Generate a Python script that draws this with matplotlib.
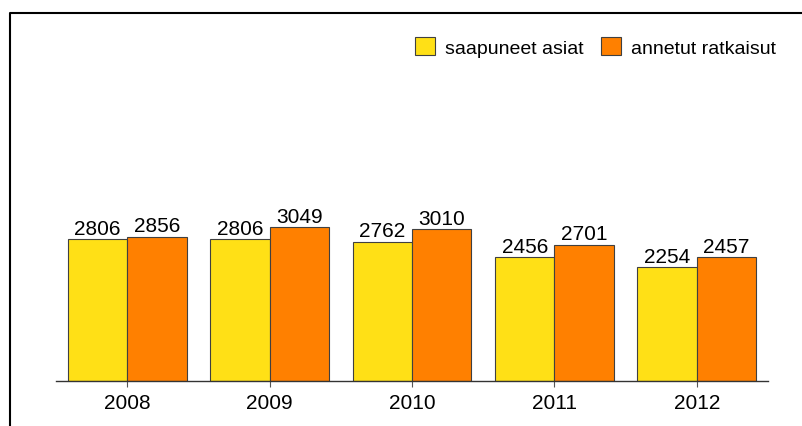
import matplotlib.pyplot as plt
from matplotlib.lines import Line2D
import numpy as np

plt.rcParams['font.family'] = ['Liberation Sans', 'DejaVu Sans']

# data
years = ['2008', '2009', '2010', '2011', '2012']
saapuneet = [2806, 2806, 2762, 2456, 2254]
annetut = [2856, 3049, 3010, 2701, 2457]
labels = ['saapuneet asiat', 'annetut ratkaisut']

yellow = '#FFE016'
orange = '#FF8000'

fig = plt.figure(figsize=(8.03, 4.27), dpi=100)
ax = fig.add_axes([56 / 803, 45 / 427, 712 / 803, 353.5 / 427])

x = np.arange(len(years))
w = 0.417
b1 = ax.bar(x - w / 2, saapuneet, w, color=yellow, edgecolor='#404040', linewidth=0.8, label=labels[0])
b2 = ax.bar(x + w / 2, annetut, w, color=orange, edgecolor='#404040', linewidth=0.8, label=labels[1])
ax.bar_label(b1, padding=1.0, fontsize=15)
ax.bar_label(b2, padding=1.0, fontsize=15)

ax.set_xlim(-0.5, 4.5)
ax.set_ylim(0, 7000)
ax.set_xticks(x)
ax.set_xticklabels(years, fontsize=15)
ax.set_yticks([])
for s in ['left', 'right', 'top']:
    ax.spines[s].set_visible(False)
ax.spines['bottom'].set_color('#333333')
ax.spines['bottom'].set_linewidth(1.0)
ax.tick_params(axis='x', direction='out', length=4.3, width=0.8, color='#555555', pad=4)

ax.legend(loc='center', bbox_to_anchor=(595.5 / 803, 1 - 48 / 427), bbox_transform=fig.transFigure,
          ncol=2, frameon=False, fontsize=14, handlelength=1.05, handleheight=1.05,
          handletextpad=0.5, columnspacing=0.9)

# frame around the figure (only top and left visible)
yt = 1 - 14 / 427
xl = 10 / 803
fig.add_artist(Line2D([xl, xl, 1.01], [-0.01, yt, yt], transform=fig.transFigure,
                      color='black', linewidth=1.5))

fig.savefig('out.png', dpi=100)
